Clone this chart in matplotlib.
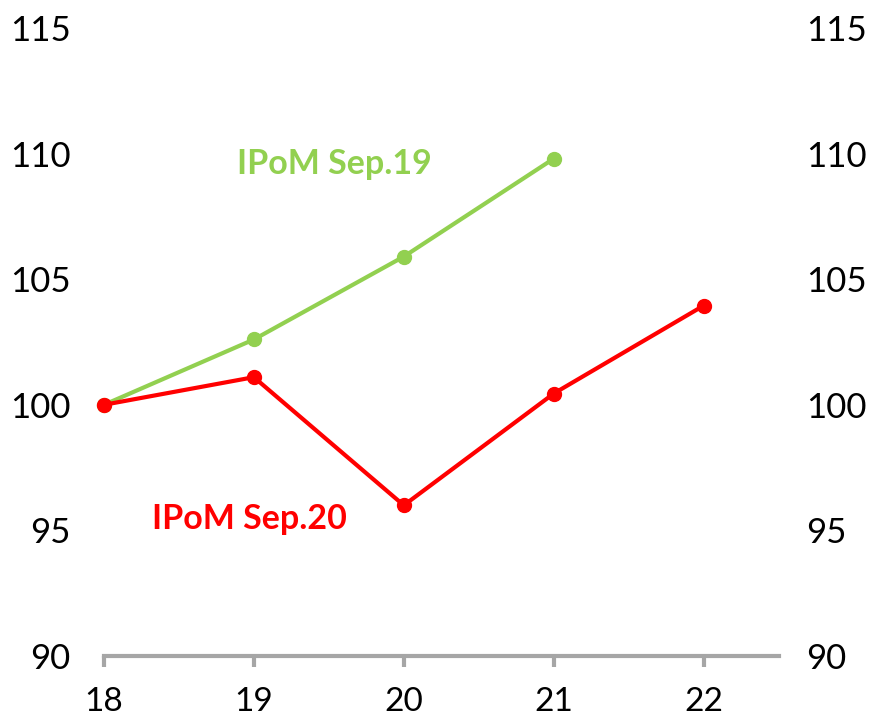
#!/usr/bin/env python3
import matplotlib
matplotlib.use("Agg")
import matplotlib.pyplot as plt

years = [18, 19, 20, 21, 22]
sep19 = [100.0, 102.6, 105.9, 109.8]
sep20 = [100.0, 101.1, 96.0, 100.45, 103.95]
y_ticks = [90, 95, 100, 105, 110, 115]

GREEN = "#92D050"
RED = "#FF0000"
GREY = "#A6A6A6"

plt.rcParams["font.family"] = ["Lato", "DejaVu Sans"]

fig = plt.figure(figsize=(8.73, 7.17), dpi=100)
ax = fig.add_axes([0.119, 0.085, 0.773, 0.876])

ax.plot(years[:len(sep19)], sep19, color=GREEN, lw=3, marker="o", ms=10,
        clip_on=False, zorder=3)
ax.plot(years, sep20, color=RED, lw=3, marker="o", ms=10,
        clip_on=False, zorder=4)

ax.text(18.89, 109.6, "IPoM Sep.19", color=GREEN, fontsize=24.5,
        fontweight="bold", va="center", ha="left")
ax.text(18.32, 95.45, "IPoM Sep.20", color=RED, fontsize=24.5,
        fontweight="bold", va="center", ha="left")

ax.set_xlim(18, 22.5)
ax.set_ylim(90, 115)
ax.set_xticks(years)
ax.set_xticklabels([str(y) for y in years])
ax.set_yticks(y_ticks)
ax.set_yticklabels([str(v) for v in y_ticks])

for side in ["top", "left", "right"]:
    ax.spines[side].set_visible(False)
ax.spines["bottom"].set_color(GREY)
ax.spines["bottom"].set_linewidth(3)

ax.tick_params(axis="x", direction="out", length=8, width=3, color=GREY,
               labelsize=24, pad=14)
ax.tick_params(axis="y", length=0, labelsize=25, pad=24)

# right-hand copy of the value axis
ax2 = ax.twinx()
ax2.set_ylim(ax.get_ylim())
ax2.set_yticks(y_ticks)
ax2.set_yticklabels([str(v) for v in y_ticks])
ax2.tick_params(axis="y", length=0, labelsize=25, pad=20)
for side in ["top", "left", "right", "bottom"]:
    ax2.spines[side].set_visible(False)

fig.savefig("out.png", dpi=100)
